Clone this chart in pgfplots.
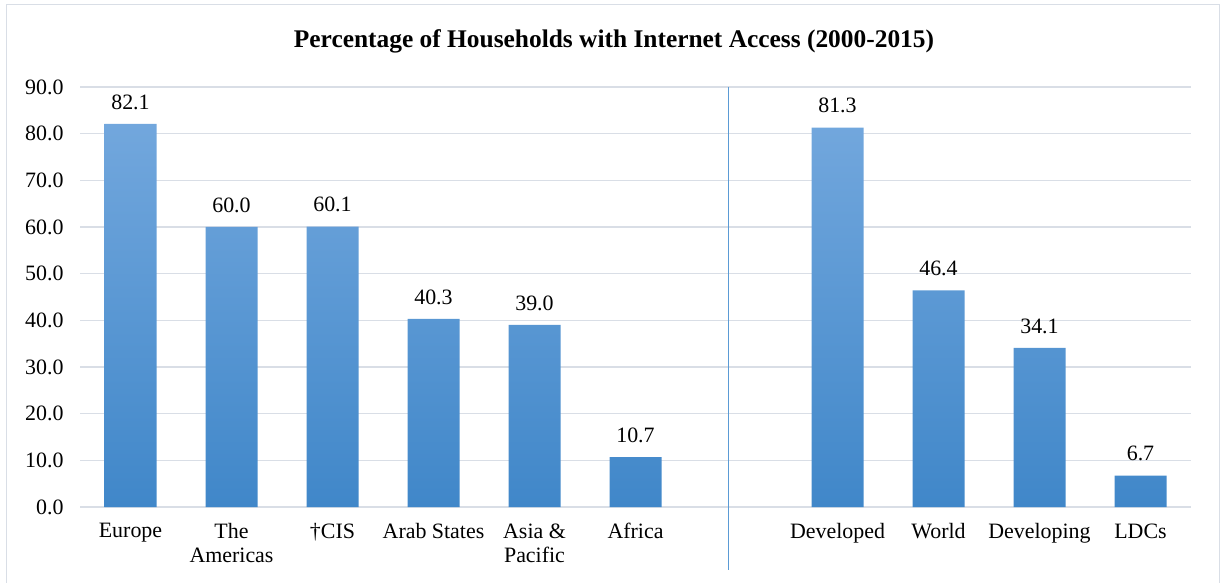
\documentclass[border=0pt]{standalone}
\usepackage{pgfplots}
\pgfplotsset{compat=1.18}
\usepackage{fontspec}
\setmainfont{Liberation Serif}
\newfontfamily\tnr{Liberation Serif}
\definecolor{gridc}{RGB}{217,222,230}
\definecolor{bartop}{RGB}{114,167,221}
\definecolor{barbot}{RGB}{64,135,201}
\definecolor{sepc}{RGB}{91,155,213}
\definecolor{framec}{RGB}{217,222,230}
\begin{document}
\begin{tikzpicture}
\useasboundingbox (0,0) rectangle (1221bp,583bp);
\draw[framec, line width=1.2bp] (6.5bp,-5bp) -- (6.5bp,578.5bp) -- (1219.5bp,578.5bp) -- (1219.5bp,-5bp);
\node[font=\tnr\fontsize{25.5}{30}\selectfont\bfseries, anchor=base] at (614bp,535bp) {Percentage of Households with Internet Access (2000-2015)};
\begin{axis}[
  at={(80bp,76bp)}, anchor=south west,
  scale only axis, width=1111bp, height=420bp,
  xmin=-0.5, xmax=10.5, ymin=0, ymax=90,
  ytick={0,10,...,90},
  xtick={0,1,2,3,4,5,7,8,9,10},
  xticklabels={Europe,The\\Americas,†CIS,Arab States,Asia \&\\Pacific,Africa,Developed,World,Developing,LDCs},
  x tick label style={align=center, yshift=-13bp, font=\tnr\fontsize{22}{24}\selectfont},
  y tick label style={xshift=-13bp, font=\tnr\fontsize{22}{24}\selectfont},
  /pgf/number format/assume math mode=true,
  /pgf/number format/fixed, /pgf/number format/fixed zerofill, /pgf/number format/precision=1,
  yticklabel={\tnr\pgfmathprintnumber[assume math mode=true,fixed,fixed zerofill,precision=1]{\tick}},
  axis line style={draw=none},
  major tick length=0pt,
  ymajorgrids, grid style={gridc, line width=1.3bp},
  clip=false,
  ybar, bar width=52bp,
  nodes near coords={\tnr\pgfmathprintnumber[assume math mode=true,fixed,fixed zerofill,precision=1]{\pgfplotspointmeta}},
  every node near coord/.append style={font=\tnr\fontsize{22}{24}\selectfont, yshift=11bp, black},
]
\addplot[draw=none, top color=bartop, bottom color=barbot] coordinates {
(0,82.1) (1,60.0) (2,60.1) (3,40.3) (4,39.0) (5,10.7)
(7,81.3) (8,46.4) (9,34.1) (10,6.7)};
\draw[sepc, line width=1bp] (axis cs:5.92,90) -- (axis cs:5.92,-13.5);
\end{axis}
\end{tikzpicture}
\end{document}
